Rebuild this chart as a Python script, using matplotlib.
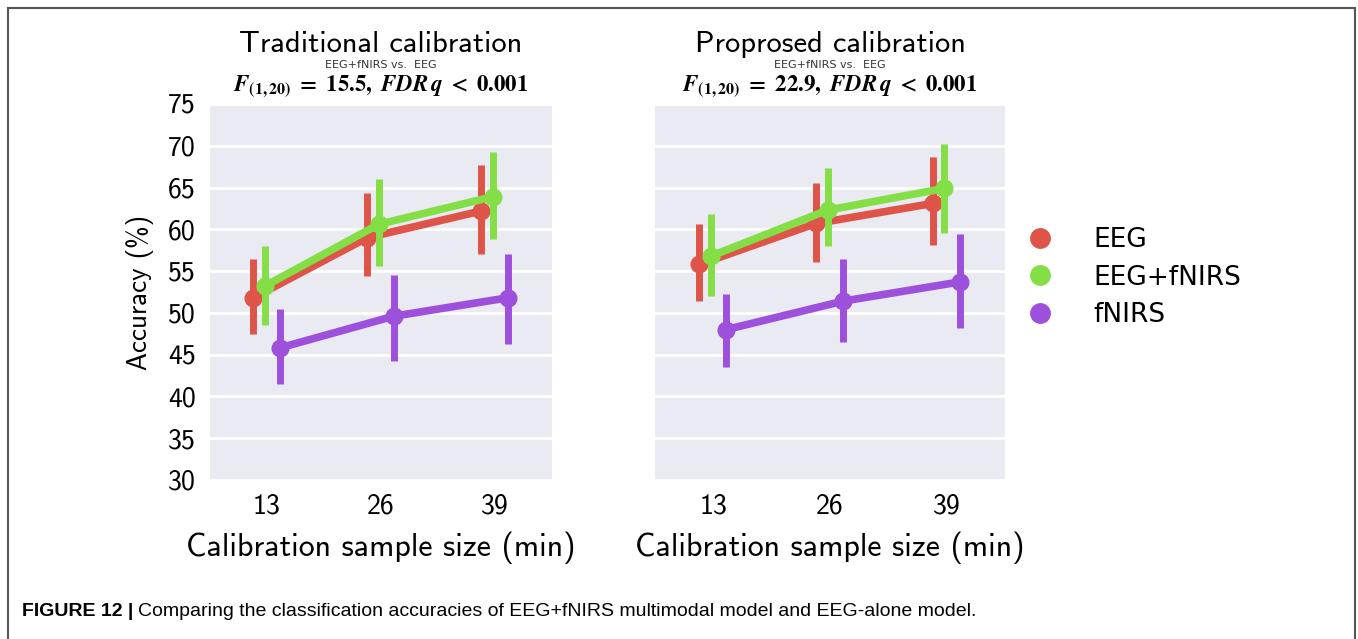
import matplotlib
matplotlib.use("Agg")
import matplotlib.pyplot as plt
from matplotlib.lines import Line2D
from matplotlib.patches import Rectangle
import numpy as np

# --- data ---
categories = ['13', '26', '39']
groups = ['EEG', 'EEG+fNIRS', 'fNIRS']
colors = ['#df5448', '#84de45', '#9c50dc']
yticks = [30, 35, 40, 45, 50, 55, 60, 65, 70, 75]

trad_mean = [[51.8, 59.0, 62.2], [53.2, 60.6, 63.9], [45.8, 49.6, 51.8]]
trad_lo = [[47.5, 54.4, 57.1], [48.5, 55.6, 58.8], [41.5, 44.3, 46.3]]
trad_hi = [[56.4, 64.3, 67.7], [58.0, 66.0, 69.3], [50.5, 54.5, 57.0]]

prop_mean = [[55.8, 60.7, 63.1], [56.8, 62.3, 64.9], [48.0, 51.4, 53.7]]
prop_lo = [[51.4, 56.1, 58.1], [52.0, 58.0, 59.6], [43.5, 46.5, 48.2]]
prop_hi = [[60.6, 65.5, 68.7], [61.8, 67.4, 70.2], [52.3, 56.5, 59.5]]

titles = ['Traditional calibration', 'Proprosed calibration']
stats = [r'$\mathbfit{F}_{\mathbf{(1,20)}}\mathbf{\ =\ 15.5,}\ \mathbfit{FDR\,q}\mathbf{\ <\ 0.001}$',
         r'$\mathbfit{F}_{\mathbf{(1,20)}}\mathbf{\ =\ 22.9,}\ \mathbfit{FDR\,q}\mathbf{\ <\ 0.001}$']
caption_bold = 'FIGURE 12 |'
caption = 'Comparing the classification accuracies of EEG+fNIRS multimodal model and EEG-alone model.'

dodge = [-0.12, -0.02, 0.11]
SANS = 'cmss10'

fig = plt.figure(figsize=(13.58, 6.39), dpi=100)
W, H = 1358, 639

ax_boxes = [(210, 104, 552, 480), (655, 104, 1005, 480)]
panels = [(trad_mean, trad_lo, trad_hi), (prop_mean, prop_lo, prop_hi)]

for i, (box, (means, los, his)) in enumerate(zip(ax_boxes, panels)):
    x0, y0, x1, y1 = box
    ax = fig.add_axes([x0 / W, 1 - y1 / H, (x1 - x0) / W, (y1 - y0) / H])
    ax.set_facecolor('#eaeaf2')
    for s in ax.spines.values():
        s.set_visible(False)
    ax.set_axisbelow(True)
    ax.yaxis.grid(True, color='white', linewidth=2)
    ax.set_xlim(-0.5, 2.5)
    ax.set_ylim(30, 75)
    ax.set_yticks(yticks)
    x = np.arange(len(categories))
    ax.set_xticks(x)
    ax.set_xticklabels(categories, fontsize=20, family=SANS)
    if i == 0:
        ax.set_yticklabels([str(t) for t in yticks], fontsize=20, family=SANS)
        ax.set_ylabel('Accuracy (%)', fontsize=19.5, family=SANS, labelpad=10)
    else:
        ax.set_yticklabels([])
    ax.tick_params(length=0, pad=10)
    ax.set_xlabel('Calibration sample size (min)', fontsize=23, family=SANS, labelpad=9)

    for g in range(len(groups)):
        xs = x + dodge[g]
        ax.vlines(xs, los[g], his[g], color=colors[g], linewidth=5, zorder=3 + g)
        ax.plot(xs, means[g], color=colors[g], linewidth=5.5, marker='o',
                markersize=12, zorder=3 + g, solid_capstyle='butt')

    cx = (x0 + x1) / 2 / W
    fig.text(cx, 1 - 44 / H, titles[i], ha='center', va='center', fontsize=22, family=SANS)
    fig.text(cx, 1 - 65 / H, 'EEG+fNIRS vs.  EEG', ha='center', va='center',
             fontsize=8, color='#333333')
    fig.text(cx, 1 - 86 / H, stats[i], ha='center', va='center', fontsize=16.5,
             math_fontfamily='stix')

handles = [Line2D([], [], linestyle='none', marker='o', markersize=14,
                  markerfacecolor=c, markeredgecolor=c) for c in colors]
fig.legend(handles, groups, loc='upper left', bbox_to_anchor=(990 / W, 1 - 203 / H),
           frameon=False, fontsize=19, handletextpad=1.0, labelspacing=0.45)

# figure frame and caption
fig.add_artist(Rectangle((8 / W, -0.1), (1355 - 8) / W, 1.1 - 8 / H,
                         transform=fig.transFigure, fill=False,
                         edgecolor='#555555', linewidth=1.5))
t = fig.text(22 / W, 1 - 611 / H, caption_bold, fontsize=14, fontweight='bold',
             family='Liberation Sans', va='center', ha='left')
fig.canvas.draw()
bb = t.get_window_extent()
fig.text((bb.x1 + 5) / W, 1 - 611 / H, caption, fontsize=14,
         family='Liberation Sans', va='center', ha='left')

fig.savefig('out.png', dpi=100)
